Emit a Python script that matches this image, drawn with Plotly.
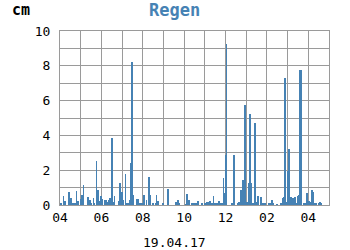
import plotly.graph_objects as go

day = "2017-04-19"
times = [
    "04:03", "04:10", "04:13", "04:16", "04:27", "04:33", "04:36", "04:39", "04:44", "04:48",
    "04:50", "04:53", "05:02", "05:05", "05:08", "05:22", "05:25", "05:28", "05:31", "05:37",
    "05:40", "05:46", "05:49", "05:52", "05:54", "05:57", "06:00", "06:03", "06:09", "06:12",
    "06:15", "06:18", "06:21", "06:24", "06:26", "06:29", "06:32", "06:35", "06:38", "06:50",
    "06:53", "06:56", "06:59", "07:04", "07:10", "07:13", "07:16", "07:22", "07:25", "07:28",
    "07:30", "07:33", "07:42", "07:45", "07:48", "07:54", "08:00", "08:03", "08:11", "08:17",
    "08:20", "08:29", "08:37", "08:40", "08:43", "08:58", "09:12", "09:36", "09:41", "09:44",
    "10:05", "10:08", "10:11", "10:14", "10:22", "10:25", "10:28", "10:31", "10:37", "10:40",
    "10:51", "11:00", "11:05", "11:08", "11:11", "11:14", "11:20", "11:22", "11:25", "11:28",
    "11:31", "11:34", "11:37", "11:40", "11:43", "11:46", "11:49", "11:52", "11:54", "11:57",
    "12:00", "12:03", "12:18", "12:24", "12:35", "12:38", "12:44", "12:50", "12:56", "12:58",
    "13:01", "13:07", "13:10", "13:13", "13:19", "13:25", "13:27", "13:30", "13:33", "13:42",
    "13:48", "13:54", "14:05", "14:08", "14:11", "14:14", "14:17", "14:29", "14:40", "14:46",
    "14:49", "14:52", "14:55", "15:01", "15:04", "15:06", "15:09", "15:12", "15:15", "15:18",
    "15:21", "15:24", "15:30", "15:33", "15:36", "15:38", "15:48", "15:51", "15:53", "15:56",
    "16:02", "16:08", "16:11", "16:14", "16:19", "16:22", "16:31", "16:34", "16:37",
]
rain_cm = [
    0.10, 0.50, 0.23, 0.23, 0.75, 0.40, 0.13, 0.13, 0.10, 0.80,
    0.23, 0.23, 0.35, 0.57, 1.17, 0.44, 0.17, 0.29, 0.10, 0.38,
    0.06, 2.53, 0.86, 0.13, 0.06, 0.23, 0.54, 0.35, 0.27, 0.27,
    0.27, 0.17, 0.27, 0.40, 0.10, 0.17, 3.87, 0.17, 0.52, 0.23,
    1.26, 0.10, 0.75, 0.29, 1.78, 0.06, 0.13, 0.29, 2.41, 8.22,
    0.29, 0.57, 0.35, 0.35, 0.10, 0.12, 0.06, 0.57, 0.29, 1.60,
    0.57, 0.06, 0.06, 0.57, 0.23, 0.06, 0.92, 0.17, 0.27, 0.06,
    0.04, 0.63, 0.29, 0.29, 0.10, 0.06, 0.06, 0.06, 0.13, 0.23,
    0.06, 0.06, 0.17, 0.17, 0.17, 0.23, 0.06, 0.06, 0.52, 0.06,
    0.06, 0.06, 0.06, 0.23, 0.10, 0.06, 0.06, 0.06, 1.55, 0.69,
    2.87, 9.25, 0.10, 2.87, 0.10, 0.17, 0.86, 1.44, 5.75, 0.06,
    0.17, 1.26, 5.23, 1.26, 0.06, 4.71, 2.24, 0.17, 0.52, 0.46,
    0.06, 0.06, 0.06, 0.06, 0.06, 0.29, 0.06, 0.04, 0.06, 0.40,
    0.46, 7.30, 0.17, 1.95, 3.22, 0.06, 0.46, 0.10, 0.40, 0.17,
    0.46, 0.10, 0.52, 0.57, 7.76, 7.76, 0.06, 0.06, 0.06, 0.69,
    0.23, 0.17, 0.86, 0.75, 0.10, 0.06, 0.10, 0.17, 0.10,
]
x_range = ["04:00", "17:00"]
title_text = "Regen"
unit_text = "cm"
date_text = "19.04.17"

MONO = "DejaVu Sans Mono"
BAR = "#4682b4"
GRID = "#9a9a9a"

fig = go.Figure(go.Bar(
    x=[f"{day} {t}" for t in times],
    y=rain_cm,
    width=150000,
    marker=dict(color=BAR, line=dict(width=0)),
))

fig.update_layout(
    width=350, height=250,
    margin=dict(l=60, r=21, t=31, b=45),
    paper_bgcolor="white", plot_bgcolor="white",
    showlegend=False,
    font=dict(family=MONO, size=13, color="black"),
    bargap=0,
)
fig.update_xaxes(
    type="date",
    range=[f"{day} {x_range[0]}", f"{day} {x_range[1]}"],
    dtick=7200000, tick0=f"{day} 04:00", tickformat="%I",
    showgrid=True, gridcolor=GRID, gridwidth=1,
    minor=dict(dtick=3600000, showgrid=True, gridcolor=GRID, gridwidth=1),
    showline=True, linecolor=GRID, linewidth=1, mirror=True,
    ticks="", tickfont=dict(family=MONO, size=13, color="black"),
    zeroline=False,
)
fig.update_yaxes(
    range=[0, 10], dtick=2,
    showgrid=True, gridcolor=GRID, gridwidth=1,
    minor=dict(dtick=1, showgrid=True, gridcolor=GRID, gridwidth=1),
    showline=True, linecolor=GRID, linewidth=1, mirror=True,
    ticks="", ticklabelstandoff=6,
    tickfont=dict(family=MONO, size=13, color="black"),
    zeroline=False,
)

fig.add_annotation(text=f"<b>{title_text}</b>", xref="paper", yref="paper",
                   x=0.425, y=1, yshift=21, xanchor="center", yanchor="middle",
                   showarrow=False, font=dict(family=MONO, size=17, color=BAR))
fig.add_annotation(text=f"<b>{unit_text}</b>", xref="paper", yref="paper",
                   x=0, xshift=-50, y=1, yshift=21, xanchor="left", yanchor="middle",
                   showarrow=False, font=dict(family=MONO, size=15, color="black"))
fig.add_annotation(text=date_text, xref="paper", yref="paper",
                   x=0.425, y=0, yshift=-37, xanchor="center", yanchor="middle",
                   showarrow=False, font=dict(family=MONO, size=13, color="black"))

fig.write_html("out.html")
